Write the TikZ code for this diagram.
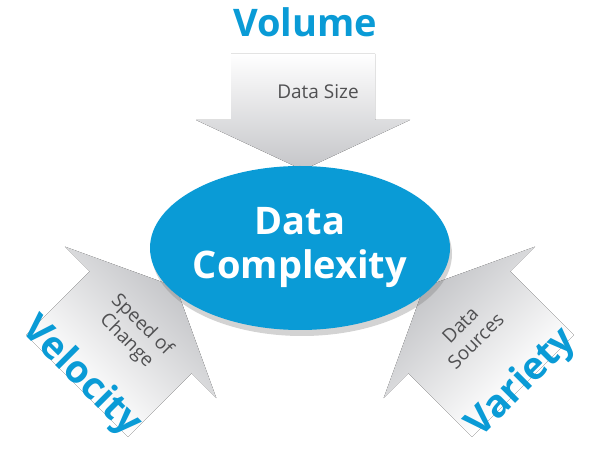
\documentclass[tikz,border=0pt]{standalone}
\usepackage{fontspec}
\setmainfont{Open Sans}
\usetikzlibrary{shadows,shapes.geometric}
\definecolor{dblue}{HTML}{0A9BD6}
\definecolor{agray}{HTML}{C4C5C8}
\definecolor{tgray}{HTML}{505052}
\tikzset{
  arrowshape/.style={top color=white, bottom color=agray, draw=none},
  small/.style={text=tgray, font=\fontsize{19}{22}\selectfont, align=center},
  big/.style={text=dblue, font=\fontsize{38}{42}\selectfont\bfseries, inner sep=0pt},
}
\newcommand{\bigarrow}[1]{%
  \fill[arrowshape] (-72,-50-#1) -- (72,-50-#1) -- (72,-50) -- (107,-50) -- (0,0) -- (-107,-50) -- (-72,-50) -- cycle;}
\begin{document}
\begin{tikzpicture}[x=1pt,y=-1pt]
\useasboundingbox (0,0) rectangle (600,462);
\begin{scope}[transform canvas={shift={(303,170)}}] \bigarrow{66} \end{scope}
\begin{scope}[transform canvas={shift={(176,287)},rotate=135}] \bigarrow{90} \end{scope}
\begin{scope}[transform canvas={shift={(424,287)},rotate=-135}] \bigarrow{90} \end{scope}
\node[ellipse, minimum width=300, minimum height=164, fill=dblue, drop shadow={shadow xshift=2pt, shadow yshift=-6pt, opacity=0.35}] (ell) at (300,248) {};
\node[text=white, font=\fontsize{38}{44}\selectfont\bfseries, align=center] (dc) at (ell) {Data\\Complexity};
\node[small] (ds) at (318,92) {Data Size};
\node[small, rotate=-45] (sc) at (134,333) {Speed of\\Change};
\node[small, rotate=45] (dso) at (468,333) {Data\\Sources};
\node[big] (vol) at (305,22) {Volume};
\node[big, rotate=-45] (vel) at (81,377) {Velocity};
\node[big, rotate=45] (var) at (522,383) {Variety};
\end{tikzpicture}
\end{document}
